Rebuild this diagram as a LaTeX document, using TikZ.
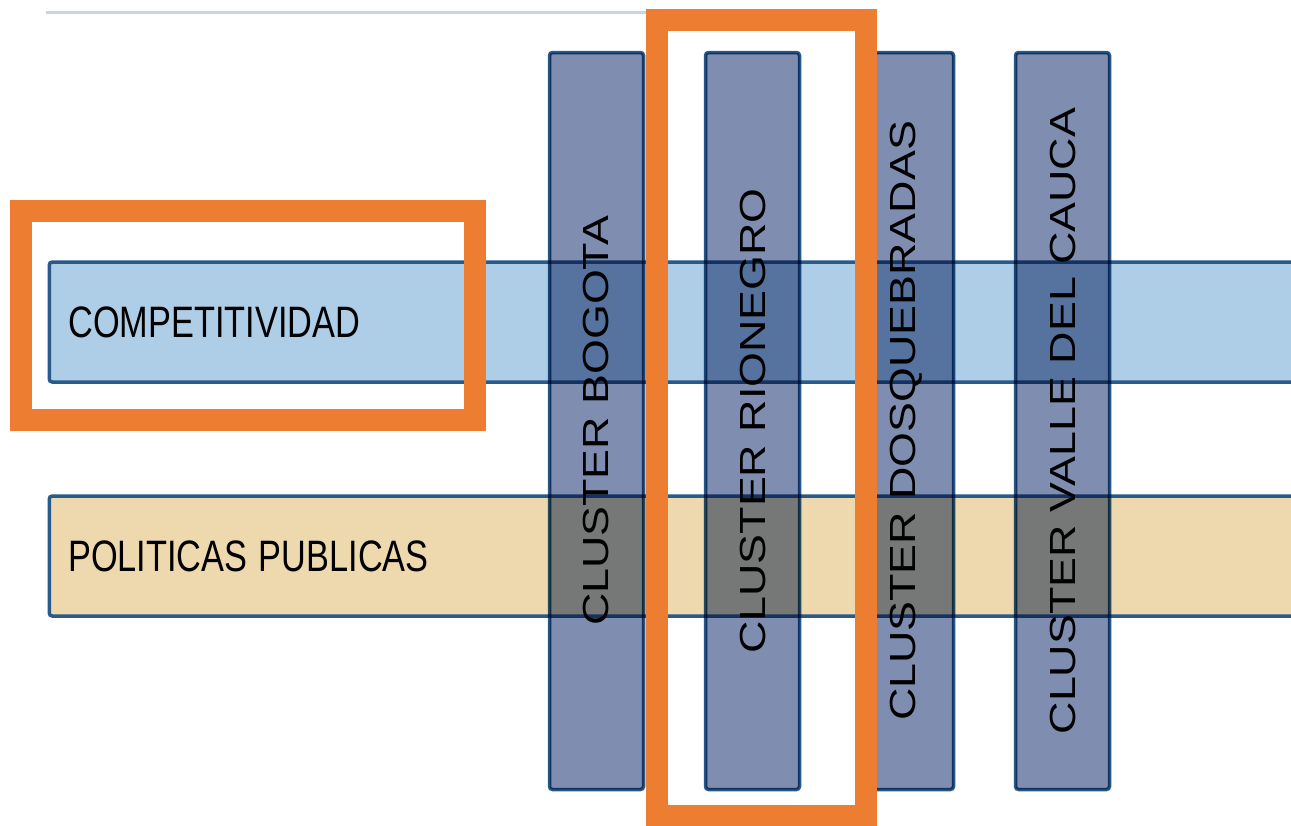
\documentclass[tikz,border=0pt]{standalone}
\usepackage{fontspec}
\setmainfont{Liberation Sans}
\usetikzlibrary{positioning}

\definecolor{edgeblue}{RGB}{40,90,138}
\definecolor{compblue}{RGB}{174,205,230}
\definecolor{polbeige}{RGB}{238,216,174}
\definecolor{clusterblue}{RGB}{127,142,176}
\definecolor{hiorange}{RGB}{237,125,49}
\definecolor{rulegray}{RGB}{200,212,232}

\newcommand{\bandtext}[1]{\scalebox{0.78}[1]{#1}}
\newcommand{\clustertext}[1]{\scalebox{1}[0.81]{#1}}

\begin{document}
\begin{tikzpicture}[x=1pt,y=-1pt,semithick]
  \tikzstyle{band}=[rectangle,draw=edgeblue,line width=3.5pt,rounded corners=3pt,
                    minimum height=120pt,text width=1224pt,align=left,inner xsep=19pt,
                    anchor=west,font=\fontsize{44}{50}\selectfont]
  \tikzstyle{cluster}=[rectangle,draw=edgeblue,fill=clusterblue,line width=3.5pt,
                       rounded corners=3pt,rotate=90,minimum width=737pt,
                       minimum height=94pt,inner sep=0pt,font=\fontsize{44.8}{50}\selectfont]
  \tikzstyle{hilite}=[draw=hiorange,line width=22pt]

  \clip (0,0) rectangle (1291,825);
  \fill[white] (0,0) rectangle (1291,825);

  \draw[rulegray,line width=3pt] (46,12) -- (660,12);

  \node[band,fill=compblue] (comp) at (47.5,322) {\bandtext{COMPETITIVIDAD}};
  \node[band,fill=polbeige] (pol)  at (47.5,556) {\bandtext{POLITICAS PUBLICAS}};

  \begin{scope}[blend mode=multiply]
  \node[cluster] (bogota)   at (596.5,421)  {\clustertext{CLUSTER BOGOTA}};
  \node[cluster] (rionegro) at (752.5,421)  {\clustertext{CLUSTER RIONEGRO}};
  \node[cluster] (dosq)     at (906.5,421)  {\clustertext{CLUSTER DOSQUEBRADAS}};
  \node[cluster] (valle)    at (1062.5,421) {\clustertext{CLUSTER VALLE DEL CAUCA}};
  \end{scope}

  % highlight frames
  \draw[hilite] (21,211) rectangle (475,420);
  \draw[hilite] (657,20) rectangle (866,816);

\end{tikzpicture}
\end{document}
